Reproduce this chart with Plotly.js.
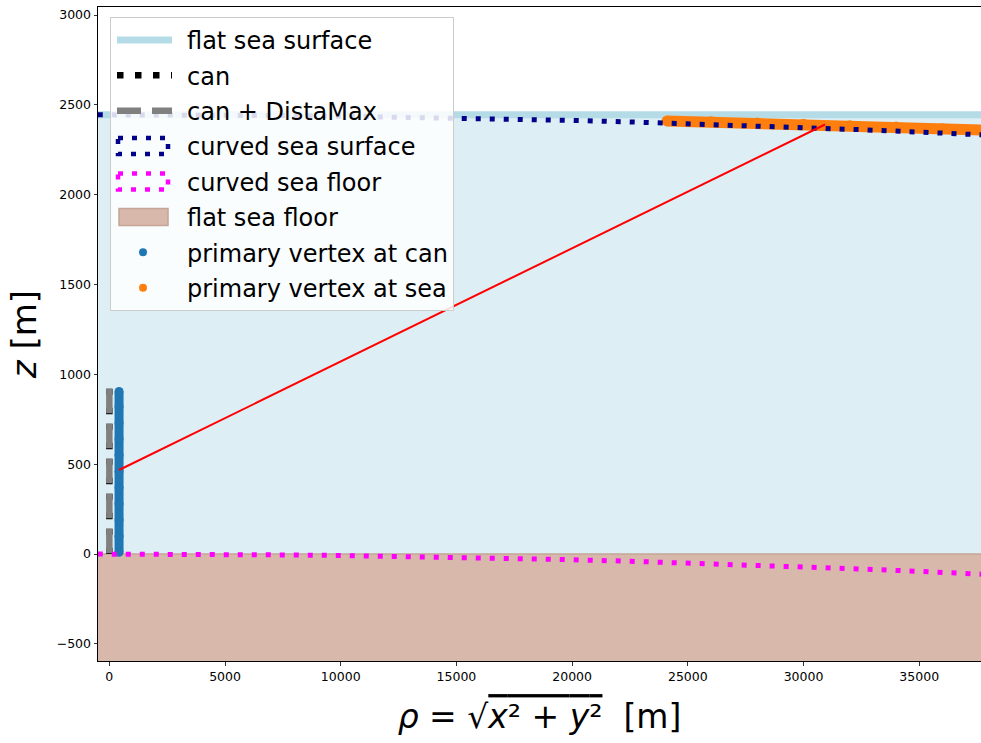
<!DOCTYPE html>
<html>
<head>
<meta charset="utf-8">
<script src="https://cdn.plot.ly/plotly-3.0.1.min.js"></script>
<style>html,body{margin:0;padding:0;background:#fff;}#chart{width:981px;height:743px;}</style>
</head>
<body>
<div id="chart"></div>
<script>
// ---- data ----
const waterRho = [-600, 38500, 38500, -600];
const waterZ = [2445, 2445, 0, 0];
const floorRho = [-600, 38500, 38500, -600];
const floorZ = [0, 0, -700, -700];
const flatSurfaceRho = [-600, 38500];
const flatSurfaceZ = [2445, 2445];
const canRho = [0, 0];
const canZ = [920, 0];
const distaMaxRho = [0, 0];
const distaMaxZ = [920, 0];
const curvedRho = [-500, 0, 2500, 5000, 7500, 10000, 12500, 15000, 17500, 20000, 22500, 25000, 27500, 30000, 32500, 35000, 37500, 38500];
const curvedSurfaceZ = [2445, 2445, 2444.5, 2443, 2440.6, 2437.2, 2432.7, 2427.3, 2421, 2413.6, 2405.3, 2396, 2385.6, 2374.4, 2362.1, 2348.9, 2334.6, 2328.7];
const curvedFloorZ = [0, 0, -0.5, -2, -4.4, -7.8, -12.3, -17.7, -24, -31.4, -39.7, -49, -59.4, -70.6, -82.9, -96.1, -110.4, -116.3];
const canVertexRho = [420, 420, 420, 420, 420, 420, 420, 420, 420, 420, 420];
const canVertexZ = [10, 100, 190, 280, 370, 460, 550, 640, 730, 820, 905];
const seaVertexRho = [24100, 26000, 28000, 30000, 32000, 34000, 36000, 38500];
const seaVertexZ = [2411, 2406, 2399.5, 2392, 2384.6, 2377, 2368, 2357];
const trackRho = [420, 30930];
const trackZ = [468, 2391];
const xTicks = [0, 5000, 10000, 15000, 20000, 25000, 30000, 35000];
const xTickText = ['0', '5000', '10000', '15000', '20000', '25000', '30000', '35000'];
const yTicks = [-500, 0, 500, 1000, 1500, 2000, 2500, 3000];
const yTickText = ['\u2212500', '0', '500', '1000', '1500', '2000', '2500', '3000'];

const F = 'DejaVu Sans, Liberation Sans, sans-serif';

const traces = [
  {x: waterRho, y: waterZ, type: 'scatter', mode: 'lines', fill: 'toself', fillcolor: '#ddeef5',
   line: {width: 0}, showlegend: false, hoverinfo: 'skip', legendgroup: 'w'},
  {x: floorRho, y: floorZ, type: 'scatter', mode: 'lines', fill: 'toself', fillcolor: '#d8b8aa',
   line: {width: 1.5, color: '#c4a596'}, name: 'flat sea floor', legendrank: 6, legendgroup: 'g6'},
  {x: flatSurfaceRho, y: flatSurfaceZ, type: 'scatter', mode: 'lines',
   line: {width: 7, color: '#b5dbe7'}, name: 'flat sea surface', legendrank: 1, legendgroup: 'g1'},
  {x: canVertexRho, y: canVertexZ, type: 'scatter', mode: 'lines', line: {width: 9, color: '#1f77b4'},
   showlegend: false, legendgroup: 'g7', hoverinfo: 'skip'},
  {x: canVertexRho, y: canVertexZ, type: 'scatter', mode: 'markers', marker: {size: 9, color: '#1f77b4'},
   name: 'primary vertex at can', legendrank: 7, legendgroup: 'g7'},
  {x: seaVertexRho, y: seaVertexZ, type: 'scatter', mode: 'lines', line: {width: 11, color: '#ff7f0e'},
   showlegend: false, legendgroup: 'g8', hoverinfo: 'skip'},
  {x: seaVertexRho, y: seaVertexZ, type: 'scatter', mode: 'markers', marker: {size: 11, color: '#ff7f0e'},
   name: 'primary vertex at sea', legendrank: 8, legendgroup: 'g8'},
  {x: canRho, y: canZ, type: 'scatter', mode: 'lines', line: {width: 6.5, color: '#000000', dash: '6px,13px,6.5px,9.5px'},
   name: 'can', legendrank: 2, legendgroup: 'g2'},
  {x: distaMaxRho, y: distaMaxZ, type: 'scatter', mode: 'lines', line: {width: 6.5, color: '#808080', dash: '24.5px,10.5px'},
   name: 'can + DistaMax', legendrank: 3, legendgroup: 'g3'},
  {x: curvedRho, y: curvedSurfaceZ, type: 'scatter', mode: 'lines', line: {width: 5, color: '#00008b', dash: '5px,9px'},
   name: 'curved sea surface', legendrank: 4, legendgroup: 'g4'},
  {x: curvedRho, y: curvedFloorZ, type: 'scatter', mode: 'lines', line: {width: 5, color: '#ff00ff', dash: '5px,9px'},
   name: 'curved sea floor', legendrank: 5, legendgroup: 'g5'},
  {x: trackRho, y: trackZ, type: 'scatter', mode: 'lines', line: {width: 2, color: '#ff0000'},
   showlegend: false, legendgroup: 'r', hoverinfo: 'skip'}
];

const layout = {
  width: 981, height: 743,
  margin: {l: 98, r: 0, t: 7, b: 82},
  paper_bgcolor: '#ffffff', plot_bgcolor: '#ffffff',
  font: {family: F, color: '#000000'},
  showlegend: true,
  legend: {
    x: 0.0136, y: 0.985, xanchor: 'left', yanchor: 'top',
    bgcolor: 'rgba(255,255,255,0.85)', bordercolor: '#cccccc', borderwidth: 1,
    font: {family: F, size: 24, color: '#000000'},
    tracegroupgap: 1.2, itemwidth: 66, traceorder: 'grouped'
  },
  xaxis: {
    range: [-490, 37670], autorange: false,
    tickmode: 'array', tickvals: xTicks, ticktext: xTickText,
    ticks: 'outside', ticklen: 3.5, tickwidth: 0.8, tickcolor: '#000',
    showline: true, linecolor: '#000', linewidth: 1, mirror: true,
    showgrid: false, zeroline: false,
    tickfont: {family: F, size: 12.5, color: '#000'},
    title: {text: '<i>ρ</i> = √<span style="text-decoration:overline"><i>x</i>² + <i>y</i>²</span>  [m]',
            font: {family: F, size: 33, color: '#000'}, standoff: 22}
  },
  yaxis: {
    range: [-595, 3045], autorange: false, automargin: true,
    tickmode: 'array', tickvals: yTicks, ticktext: yTickText,
    ticks: 'outside', ticklen: 3.5, tickwidth: 0.8, tickcolor: '#000',
    showline: true, linecolor: '#000', linewidth: 1, mirror: true,
    showgrid: false, zeroline: false,
    tickfont: {family: F, size: 12.5, color: '#000'},
    title: {text: '<i>z</i> [m]', font: {family: F, size: 34, color: '#000'}, standoff: 9}
  }
};

Plotly.newPlot('chart', traces, layout, {displayModeBar: false, staticPlot: true}).then(function (gd) {
  // legend symbol styling (longer matplotlib-like handles)
  gd.querySelectorAll('.legend .traces').forEach(function (el) {
    var d = el.__data__;
    if (!d || !d[0]) return;
    var tr = d[0].trace;
    el.querySelectorAll('.legendlines path').forEach(function (p) {
      if (tr.fill === 'toself') { p.style.display = 'none'; return; }
      p.setAttribute('d', 'M6,0h55');
      if (tr.name === 'can') p.style.strokeDasharray = '6.5px,11.5px';
      if (tr.name === 'can + DistaMax') p.style.strokeDasharray = '24px,11px';
      if (tr.name === 'curved sea surface' || tr.name === 'curved sea floor') {
        p.setAttribute('d', 'M7,-8h50v16h-50z');
        p.style.fill = 'none';
        p.style.strokeWidth = '4.5px';
        p.style.strokeDasharray = '5px,9px';
      }
    });
    el.querySelectorAll('.legendfill path').forEach(function (p) {
      p.setAttribute('d', 'M8,-8.5h49v17h-49z');
      p.style.stroke = '#c4a596';
      p.style.strokeWidth = '1.5px';
    });
    el.querySelectorAll('.legendpoints path.scatterpts').forEach(function (p) {
      var s = tr.marker && tr.marker.size ? 8 / tr.marker.size : 1;
      p.setAttribute('transform', 'translate(32,0) scale(' + s + ')');
    });
  });
});
</script>
</body>
</html>
